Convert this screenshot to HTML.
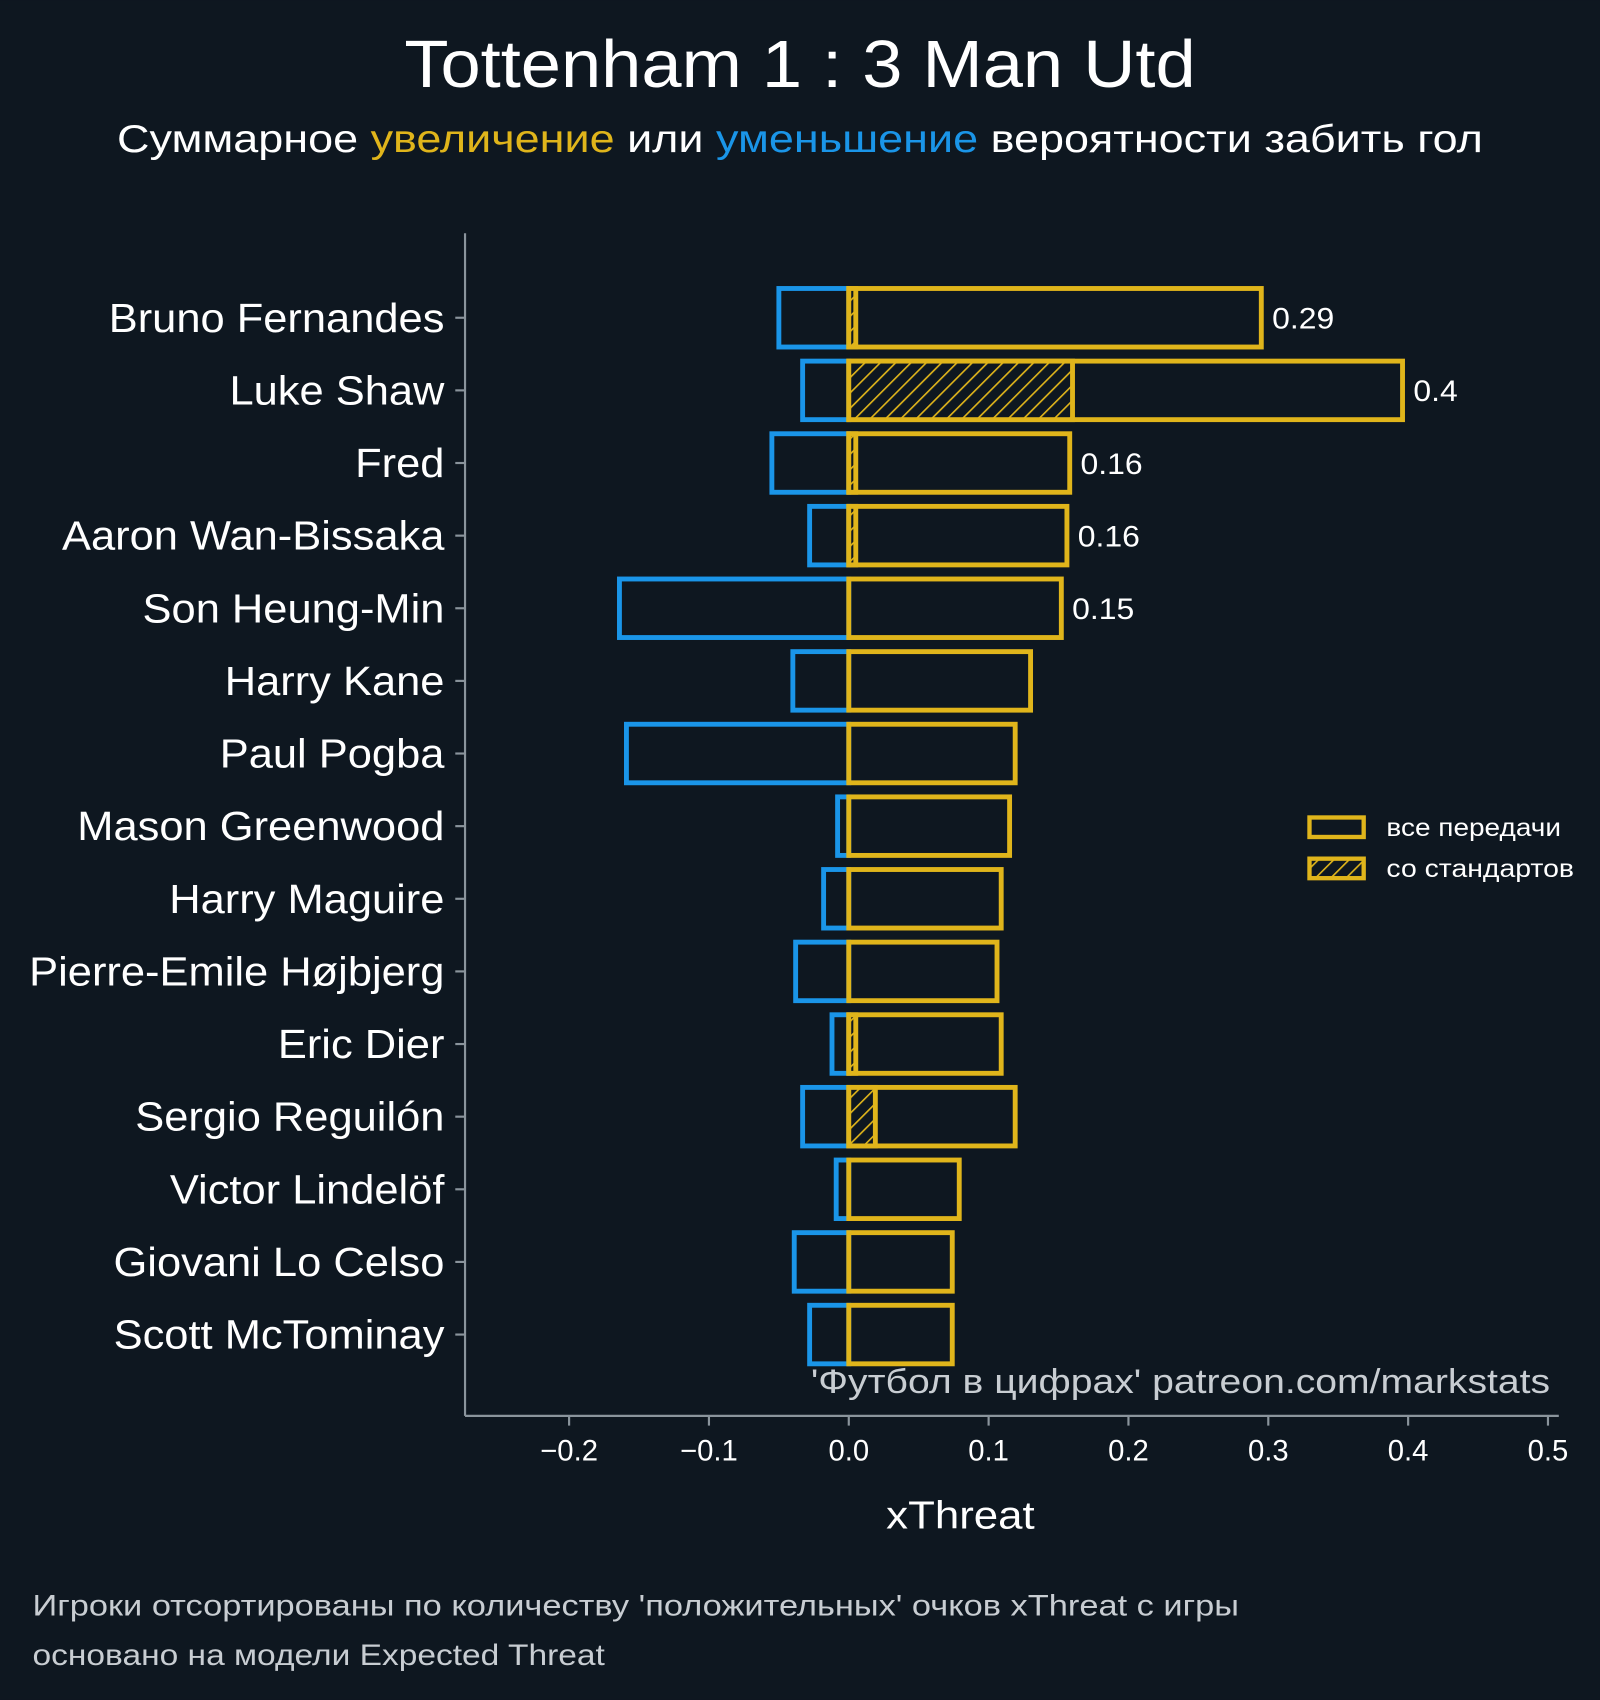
<!DOCTYPE html>
<html><head><meta charset="utf-8"><style>
html,body{margin:0;padding:0;background:#0e1720;}
svg{display:block;font-family:"Liberation Sans","DejaVu Sans",sans-serif;}
</style></head>
<body>
<svg id="chart" width="1600" height="1700" viewBox="0 0 1476 1568" xmlns="http://www.w3.org/2000/svg">
<defs>
<pattern id="hatch" patternUnits="userSpaceOnUse" width="10" height="10" patternTransform="rotate(45)">
<rect width="10" height="10" fill="#0e1720"/>
<line x1="0" y1="0" x2="0" y2="10" stroke="#e0b51b" stroke-width="3"/>
</pattern>
</defs>
<rect width="1476" height="1568" fill="#0e1720"/>
<text x="738" y="80" text-anchor="middle" font-size="62" fill="#ffffff" textLength="730" lengthAdjust="spacingAndGlyphs">Tottenham 1 : 3 Man Utd</text>
<text x="738" y="140" text-anchor="middle" font-size="36" fill="#ffffff" textLength="1260" lengthAdjust="spacingAndGlyphs">Суммарное <tspan fill="#e0b51b">увеличение</tspan> или <tspan fill="#1a95e8">уменьшение</tspan> вероятности забить гол</text>
<g id="plot"></g>
<line x1="429" y1="215" x2="429" y2="1306" stroke="#8a949c" stroke-width="2"/>
<line x1="429" y1="1306" x2="1438" y2="1306" stroke="#8a949c" stroke-width="2"/>
<text x="886" y="1410" text-anchor="middle" font-size="36" fill="#ffffff" textLength="137" lengthAdjust="spacingAndGlyphs">xThreat</text>
<text x="1430" y="1285" text-anchor="end" font-size="32" fill="#c8cdd2" textLength="682" lengthAdjust="spacingAndGlyphs">'Футбол в цифрах' patreon.com/markstats</text>
<g>
<rect x="1208" y="754" width="50" height="18" fill="#0e1720" stroke="#e0b51b" stroke-width="4"/>
<text x="1279" y="771" font-size="23" fill="#ffffff" textLength="161" lengthAdjust="spacingAndGlyphs">все передачи</text>
<rect x="1208" y="792" width="50" height="18" fill="url(#hatch)" stroke="#e0b51b" stroke-width="4"/>
<text x="1279" y="809" font-size="23" fill="#ffffff" textLength="173" lengthAdjust="spacingAndGlyphs">со стандартов</text>
</g>
<text x="30" y="1490" font-size="27" fill="#c8cdd2" textLength="1113" lengthAdjust="spacingAndGlyphs">Игроки отсортированы по количеству 'положительных' очков xThreat с игры</text>
<text x="30" y="1536" font-size="27" fill="#c8cdd2" textLength="528" lengthAdjust="spacingAndGlyphs">основано на модели Expected Threat</text>
</svg>
<script>
const players = ["Bruno Fernandes","Luke Shaw","Fred","Aaron Wan-Bissaka","Son Heung-Min","Harry Kane","Paul Pogba","Mason Greenwood","Harry Maguire","Pierre-Emile Højbjerg","Eric Dier","Sergio Reguilón","Victor Lindelöf","Giovani Lo Celso","Scott McTominay"];
const positiveValues = [0.295,0.396,0.158,0.156,0.152,0.130,0.119,0.115,0.109,0.106,0.109,0.119,0.079,0.074,0.074];
const negativeValues = [-0.050,-0.033,-0.055,-0.028,-0.164,-0.040,-0.159,-0.008,-0.018,-0.038,-0.012,-0.033,-0.009,-0.039,-0.028];
const setPieceValues = [0.005,0.160,0.005,0.005,0,0,0,0,0,0,0.005,0.019,0,0,0];
const valueLabels = ["0.29","0.4","0.16","0.16","0.15","","","","","","","","","",""];
const xTicks = [-0.2,-0.1,0.0,0.1,0.2,0.3,0.4,0.5];
const xTickLabels = ["−0.2","−0.1","0.0","0.1","0.2","0.3","0.4","0.5"];

const NS = "http://www.w3.org/2000/svg";
const plot = document.getElementById('plot');
function xScale(v){ return 783 + v*1290; }
function yScale(i){ return 293 + i*67; }
const BH = 54;
function mk(tag, attrs, parent){
  const e = document.createElementNS(NS, tag);
  for (const k in attrs) e.setAttribute(k, attrs[k]);
  (parent||plot).appendChild(e);
  return e;
}
function widen(el, f){
  const w = el.getComputedTextLength();
  el.setAttribute('textLength', (w*f).toFixed(1));
  el.setAttribute('lengthAdjust','spacingAndGlyphs');
}
players.forEach((p,i)=>{
  const yc = yScale(i);
  let t = mk('text',{x:410,y:yc+13,'text-anchor':'end','font-size':38,fill:'#ffffff'});
  t.textContent = p;
  
  
  widen(t, 1.055);
  let tk = mk('line',{x1:420,x2:429,y1:yc,y2:yc,stroke:'#8a949c','stroke-width':2});
  
  
  const n = negativeValues[i];
  let nb = mk('rect',{x:xScale(n),y:yc-BH/2,width:xScale(0)-xScale(n),height:BH,fill:'none',stroke:'#1a95e8','stroke-width':4.5});
  
  
  const v = positiveValues[i];
  let pb = mk('rect',{x:xScale(0),y:yc-BH/2,width:xScale(v)-xScale(0),height:BH,fill:'none',stroke:'#e0b51b','stroke-width':4.5});
  
  
  const s = setPieceValues[i];
  if (s > 0){
    let sb = mk('rect',{x:xScale(0),y:yc-BH/2,width:xScale(s)-xScale(0),height:BH,fill:'url(#hatch)',stroke:'#e0b51b','stroke-width':4.5});
    
    
  }
  if (valueLabels[i]){
    let vl = mk('text',{x:xScale(v)+10,y:yc+10,'font-size':27,fill:'#ffffff'});
    vl.textContent = valueLabels[i];
    
    
    widen(vl, 1.09);
  }
});
xTicks.forEach((v,i)=>{
  const x = xScale(v);
  let tk = mk('line',{x1:x,x2:x,y1:1306,y2:1315,stroke:'#8a949c','stroke-width':2});
  
  
  let tl = mk('text',{x:x,y:1347,'text-anchor':'middle','font-size':27,fill:'#ffffff'});
  tl.textContent = xTickLabels[i];
  
  
});
</script>
</body></html>
